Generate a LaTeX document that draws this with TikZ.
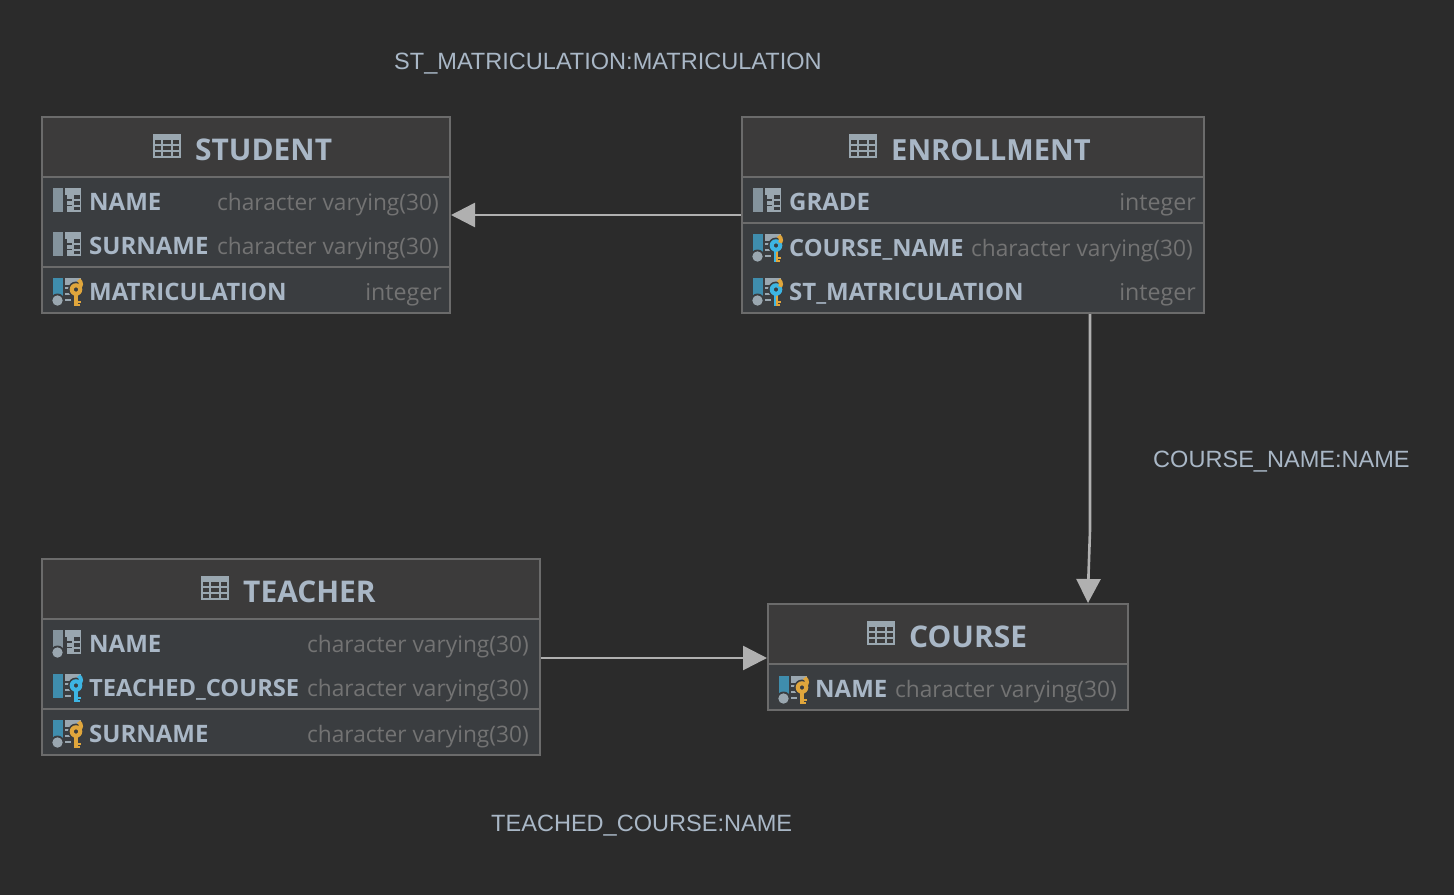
\documentclass[tikz,border=0pt]{standalone}
\usepackage{fontspec}
\setmainfont{Open Sans}
\newfontfamily\lblfont{Liberation Sans}
\usetikzlibrary{arrows.meta,fit}
\definecolor{bgc}{HTML}{2B2B2B}
\definecolor{headc}{HTML}{3C3B3B}
\definecolor{bodyc}{HTML}{3A3D40}
\definecolor{edgec}{HTML}{6B6B6B}
\definecolor{textc}{HTML}{A9B7C6}
\definecolor{typec}{HTML}{737373}
\definecolor{iconc}{HTML}{9AA7B0}
\definecolor{barg}{HTML}{84939D}
\definecolor{barb}{HTML}{3F8DAD}
\definecolor{gold}{HTML}{E0A63C}
\definecolor{bluek}{HTML}{3DB5E3}
\definecolor{linkc}{HTML}{B0B0B0}
\tikzset{
  tablebox/.style={draw=edgec,line width=2pt,fill=bodyc,inner sep=0pt},
  divider/.style={draw=edgec,line width=2pt},
  titletext/.style={anchor=base west,inner sep=0pt,text=textc,font=\fontsize{29.9}{32}\selectfont\bfseries},
  titlenarrow/.style={titletext,font=\fontsize{29.1}{32}\selectfont\bfseries},
  nametext/.style={anchor=base west,inner sep=0pt,text=textc,font=\fontsize{24}{28}\selectfont\bfseries},
  namenarrow/.style={nametext,font=\fontsize{23.7}{28}\selectfont\bfseries},
  typetext/.style={anchor=base east,inner sep=0pt,text=typec,font=\fontsize{22.7}{28}\selectfont},
  inttext/.style={anchor=base east,inner sep=0pt,text=typec,font=\fontsize{23.2}{28}\selectfont},
  linklabel/.style={anchor=base west,inner sep=0pt,text=textc,font=\lblfont\fontsize{23.55}{28}\selectfont},
  link/.style={draw=linkc,line width=2.6pt,-{Triangle[length=24pt,width=24pt,color=linkc]}},
}
% table glyph
\newcommand{\tblicon}[2]{%
  \fill[iconc] (#1,#2) rectangle ++(28,24);
  \foreach \cy/\ch in {6/4,12/4,18/4}{
    \fill[headc] (#1+2,#2+\cy) rectangle ++(6,\ch);
    \fill[headc] (#1+10,#2+\cy) rectangle ++(8,\ch);
    \fill[headc] (#1+20,#2+\cy) rectangle ++(6,\ch);
  }
}
% plain column glyph: x, y, dot(0/1)
\newcommand{\colicon}[3]{%
  \fill[barg] (#1,#2) rectangle ++(10,24);
  \fill[iconc] (#1+12,#2) rectangle ++(16,24);
  \foreach \cy/\ch in {7/4,13/3.5,18.5/3.5}{
    \fill[bodyc] (#1+21,#2+\cy) rectangle ++(5.5,\ch);
  }
  \fill[bodyc] (#1+12,#2+7) rectangle ++(1.5,17);
  \foreach \ly in {11.3,16.7}{\fill[bodyc] (#1+13,#2+\ly) rectangle ++(6,1.5);}
  \ifnum#3=1 \fill[bodyc] (#1+4.5,#2+22.5) circle (7);\fill[iconc] (#1+4.5,#2+22.5) circle (5.2);\fi
}
% key column glyph: x, y, barcolour, dot, keycolour top, keycolour bottom
\newcommand{\keyicon}[6]{%
  \fill[#3] (#1,#2) rectangle ++(10,24);
  \fill[iconc] (#1+12,#2) rectangle ++(16,7);
  \fill[iconc] (#1+12,#2+9) rectangle ++(5,2);
  \fill[iconc] (#1+12,#2+15) rectangle ++(6,2);
  \fill[iconc] (#1+12,#2+21) rectangle ++(6,2);
  \ifnum#4=1 \fill[bodyc] (#1+4.5,#2+22.5) circle (7);\fill[iconc] (#1+4.5,#2+22.5) circle (5.2);\fi
  \fill[bodyc] (#1+23,#2+11.5) circle (8);
  \fill[#6] (#1+21,#2+15) rectangle ++(4,13);
  \fill[#5] (#1+21,#2+15) rectangle ++(2,13);
  \fill[#6] (#1+24,#2+23) rectangle ++(4,2);
  \fill[#6] (#1+24,#2+26) rectangle ++(3,2);
  \fill[#5,even odd rule] (#1+23,#2+11.5) circle (6.3) (#1+23,#2+11.5) circle (2.2);
  \draw[#6,line width=4pt] (#1+27.2,#2+8.8) arc[start angle=33,end angle=-60,radius=5];
}
\begin{document}
\begin{tikzpicture}[x=1pt,y=-1pt]
\useasboundingbox (0,0) rectangle (1454,895);
\fill[bgc] (0,0) rectangle (1454,895);

% ---------- STUDENT
\node[tablebox,fit={(42,117)(450,313)}] (student) {};
\fill[headc] (43,118) rectangle (449,177);
\draw[divider] (42,177) -- (450,177);
\draw[divider] (42,267) -- (450,267);
\tblicon{153}{134}
\node[titletext] (studentT) at (195,160) {STUDENT};
\colicon{53}{188}{0}
\node[nametext] (s1) at (89,210) {NAME};
\node[typetext] (s1t) at (439,210) {character varying(30)};
\colicon{53}{232}{0}
\node[nametext] (s2) at (89,254) {SURNAME};
\node[typetext] (s2t) at (439,254) {character varying(30)};
\keyicon{53}{278}{barb}{1}{gold}{gold}
\node[nametext] (s3) at (89,300) {MATRICULATION};
\node[inttext] (s3t) at (442,300) {integer};

% ---------- ENROLLMENT
\node[tablebox,fit={(742,117)(1204,313)}] (enrollment) {};
\fill[headc] (743,118) rectangle (1203,177);
\draw[divider] (742,177) -- (1204,177);
\draw[divider] (742,223) -- (1204,223);
\tblicon{849}{134}
\node[titlenarrow] (enrollmentT) at (891,160) {ENROLLMENT};
\colicon{753}{188}{0}
\node[nametext] (e1) at (789,210) {GRADE};
\node[inttext] (e1t) at (1196,210) {integer};
\keyicon{753}{234}{barb}{1}{bluek}{gold}
\node[namenarrow] (e2) at (789,256) {COURSE\_NAME};
\node[typetext] (e2t) at (1193,256) {character varying(30)};
\keyicon{753}{278}{barb}{1}{bluek}{gold}
\node[nametext] (e3) at (789,300) {ST\_MATRICULATION};
\node[inttext] (e3t) at (1196,300) {integer};

% ---------- TEACHER
\node[tablebox,fit={(42,559)(540,755)}] (teacher) {};
\fill[headc] (43,560) rectangle (539,619);
\draw[divider] (42,619) -- (540,619);
\draw[divider] (42,709) -- (540,709);
\tblicon{201}{576}
\node[titletext] (teacherT) at (243,602) {TEACHER};
\colicon{53}{630}{1}
\node[nametext] (t1) at (89,652) {NAME};
\node[typetext] (t1t) at (529,652) {character varying(30)};
\keyicon{53}{674}{barb}{0}{bluek}{bluek}
\node[namenarrow] (t2) at (89,696) {TEACHED\_COURSE};
\node[typetext] (t2t) at (529,696) {character varying(30)};
\keyicon{53}{720}{barb}{1}{gold}{gold}
\node[nametext] (t3) at (89,742) {SURNAME};
\node[typetext] (t3t) at (529,742) {character varying(30)};

% ---------- COURSE
\node[tablebox,fit={(768,604)(1128,710)}] (course) {};
\fill[headc] (769,605) rectangle (1127,664);
\draw[divider] (768,664) -- (1128,664);
\tblicon{867}{621}
\node[titletext] (courseT) at (909,647) {COURSE};
\keyicon{779}{676}{barb}{1}{gold}{gold}
\node[nametext] (c1) at (815,697) {NAME};
\node[typetext] (c1t) at (1117,697) {character varying(30)};

% ---------- connectors
\coordinate (ya) at (0,215);
\coordinate (yb) at (0,658);
\coordinate (xa) at (1090,0);
\coordinate (xb) at (1088,0);
\coordinate (bend1) at (1090,530);
\coordinate (bend2) at (1088.5,575);
\draw[link] (enrollment.west |- ya) -- (student.east |- ya);
\draw[link] (teacher.east |- yb) -- (course.west |- yb);
\draw[link] (xa |- enrollment.south) -- (bend1) -- (bend2) -- (xb |- course.north);

% ---------- labels
\node[linklabel] (l1) at (394,69) {ST\_MATRICULATION:MATRICULATION};
\node[linklabel] (l2) at (1153,467) {COURSE\_NAME:NAME};
\node[linklabel] (l3) at (491,831) {TEACHED\_COURSE:NAME};
\end{tikzpicture}
\end{document}
